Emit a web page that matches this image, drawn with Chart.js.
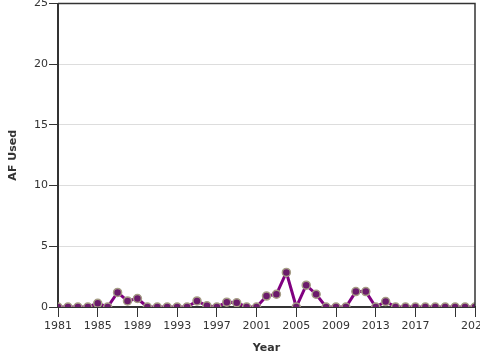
<!DOCTYPE html>
<html>
<head>
<meta charset="utf-8">
<script src="https://cdn.jsdelivr.net/npm/chart.js@4"></script>
<style>
  html, body { margin: 0; padding: 0; background: #fff; overflow: hidden; }
  #wrap { width: 500px; height: 365px; margin-top: -4px; }
</style>
</head>
<body>
<div id="wrap"><canvas id="chart"></canvas></div>
<script>
// Water use per year
const years = [];
for (let y = 1981; y <= 2023; y++) years.push(y);
const afUsed = [0, 0, 0, 0, 0.3, 0, 1.2, 0.5, 0.7, 0, 0, 0, 0, 0, 0.5,
  0.1, 0, 0.4, 0.35, 0, 0, 0.9, 1.05, 2.85, 0, 1.8, 1.05, 0, 0, 0,
  1.27, 1.27, 0, 0.45, 0, 0, 0, 0, 0, 0, 0, 0, 0];
const xTicks = [1981, 1985, 1989, 1993, 1997, 2001, 2005, 2009, 2013, 2017, 2021, 2023];
const yTicks = [0, 5, 10, 15, 20, 25];

const font = { family: 'DejaVu Sans', size: 11 };

// frame on the top and right of the plot
const frame = {
  id: 'frame',
  afterDatasetsDraw(chart) {
    const a = chart.chartArea, ctx = chart.ctx;
    ctx.save();
    ctx.strokeStyle = '#333';
    ctx.lineWidth = 1.5;
    ctx.beginPath();
    ctx.moveTo(a.left, a.top);
    ctx.lineTo(a.right, a.top);
    ctx.lineTo(a.right, a.bottom);
    ctx.stroke();
    ctx.restore();
  }
};

new Chart(document.getElementById('chart'), {
  type: 'line',
  data: {
    datasets: [{
      data: years.map((y, i) => ({ x: y, y: afUsed[i] })),
      borderColor: '#800080',
      borderWidth: 3,
      pointRadius: 4,
      pointBackgroundColor: '#6b1b6b',
      pointBorderColor: '#a69e86',
      pointBorderWidth: 1.5,
      tension: 0
    }]
  },
  options: {
    responsive: true,
    maintainAspectRatio: false,
    animation: false,
    layout: { padding: { top: 0, right: 25, left: 0, bottom: 0 } },
    plugins: { legend: { display: false }, tooltip: { enabled: false } },
    scales: {
      x: {
        type: 'linear',
        min: 1981,
        max: 2023,
        afterBuildTicks: s => { s.ticks = xTicks.map(v => ({ value: v })); },
        afterFit: s => { s.height = 54; },
        ticks: {
          autoSkip: false,
          maxRotation: 0,
          color: '#333',
          font: font,
          padding: 3,
          callback: v => (v === 2021 ? '' : String(v))
        },
        grid: { drawOnChartArea: false, tickLength: 10, tickColor: '#333' },
        border: { color: '#333', width: 2 },
        title: { display: true, text: 'Year', color: '#333', font: { family: 'DejaVu Sans', size: 11, weight: 'bold' }, padding: { top: 4, bottom: 6 } }
      },
      y: {
        min: 0,
        max: 25,
        afterBuildTicks: s => { s.ticks = yTicks.map(v => ({ value: v })); },
        afterFit: s => { s.width = 58; },
        ticks: { color: '#333', font: font, padding: 1 },
        grid: { color: '#dddddd', tickLength: 9, tickColor: '#333' },
        border: { color: '#333', width: 2 },
        title: { display: true, text: 'AF Used', color: '#333', font: { family: 'DejaVu Sans', size: 11, weight: 'bold' }, padding: { top: 7, bottom: 0 } }
      }
    }
  },
  plugins: [frame]
});
</script>
</body>
</html>
